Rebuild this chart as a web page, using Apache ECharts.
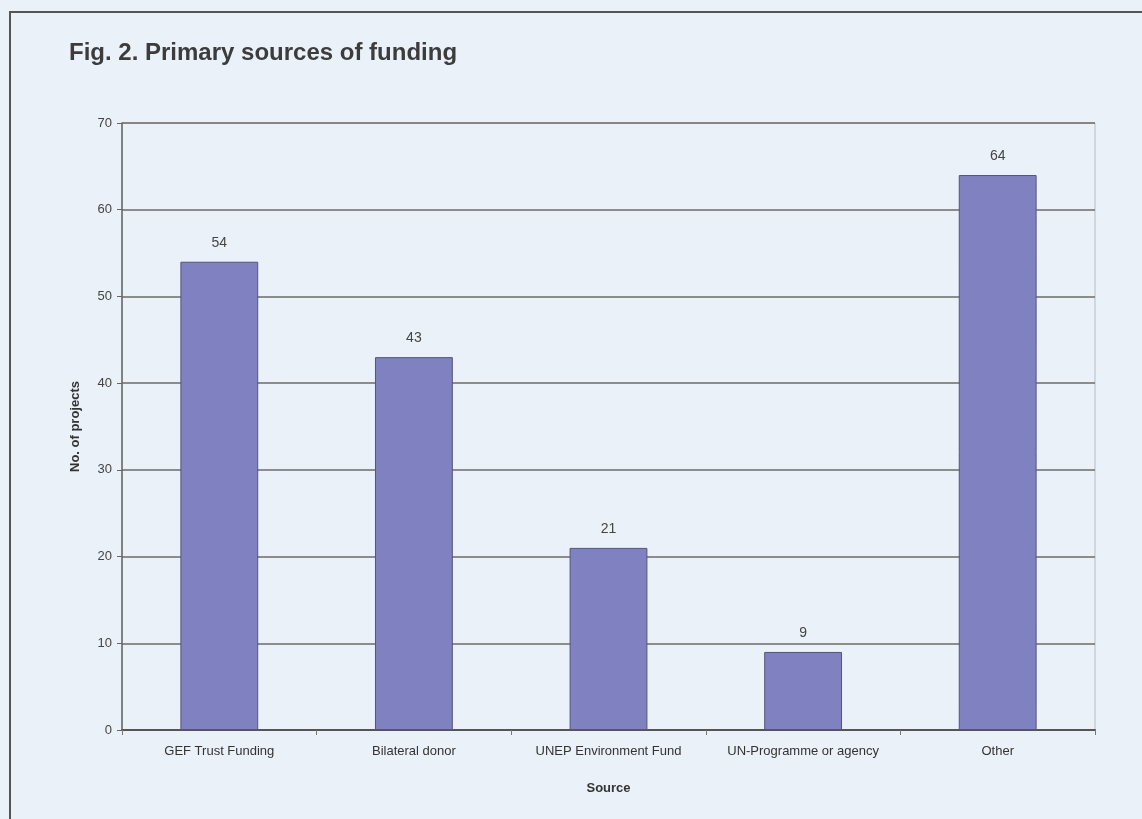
<!DOCTYPE html>
<html><head><meta charset="utf-8">
<script src="https://cdn.jsdelivr.net/npm/echarts@6/dist/echarts.min.js"></script>
<style>html,body{margin:0;padding:0;background:#eaf1f9;}#c{width:1142px;height:819px;}</style>
</head><body><div id="c"></div>
<script>
const categories = ["GEF Trust Funding","Bilateral donor","UNEP Environment Fund","UN-Programme or agency","Other"];
const projects = [54, 43, 21, 9, 64];
const yTicks = [0,10,20,30,40,50,60,70];

const narrow = '"Liberation Sans Narrow", "Liberation Sans", Arial, sans-serif';
const chart = echarts.init(document.getElementById('c'));
chart.setOption({
  backgroundColor: '#eaf1f9',
  animation: false,
  title: {
    text: 'Fig. 2. Primary sources of funding',
    left: 64, top: 36,
    textStyle: {fontFamily: '"Liberation Sans", Arial, sans-serif', fontWeight: 'bold', fontSize: 24, color: '#3c3c3c'}
  },
  graphic: [{
    type: 'polyline', silent: true,
    shape: {points: [[10, 900], [10, 12], [1200, 12]]},
    style: {stroke: '#555', lineWidth: 2, fill: null}
  }],
  grid: {left: 122, top: 123, right: 47, bottom: 89, show: true, borderColor: '#bbb', borderWidth: 1, backgroundColor: 'transparent'},
  xAxis: {
    type: 'category', data: categories,
    name: 'Source', nameLocation: 'middle', nameGap: 52,
    nameTextStyle: {fontFamily: narrow, fontWeight: 'bold', fontSize: 13, color: '#333'},
    axisLine: {lineStyle: {color: '#555', width: 2}},
    axisTick: {show: true, alignWithLabel: false, length: 5, lineStyle: {color: '#777'}},
    axisLabel: {fontFamily: narrow, fontSize: 13, color: '#333', margin: 15, interval: 0}
  },
  yAxis: {
    type: 'value', min: 0, max: 70, interval: 10,
    name: 'No. of projects', nameLocation: 'middle', nameGap: 40,
    nameTextStyle: {fontFamily: narrow, fontWeight: 'bold', fontSize: 13, color: '#333'},
    axisLine: {show: true, lineStyle: {color: '#666', width: 1.5}},
    axisTick: {show: true, length: 5, lineStyle: {color: '#666'}},
    axisLabel: {fontFamily: narrow, fontSize: 13, color: '#444', margin: 10,
      formatter: v => yTicks.includes(v) ? String(v) : ''},
    splitLine: {show: true, lineStyle: {color: '#6a6a6a', width: 1.5}}
  },
  series: [{
    type: 'bar', data: projects, barWidth: '40%',
    itemStyle: {color: '#8081c0', borderColor: '#55557a', borderWidth: 1},
    label: {show: true, position: 'top', distance: 12, fontFamily: narrow, fontSize: 14, color: '#444'}
  }]
});
</script></body></html>
